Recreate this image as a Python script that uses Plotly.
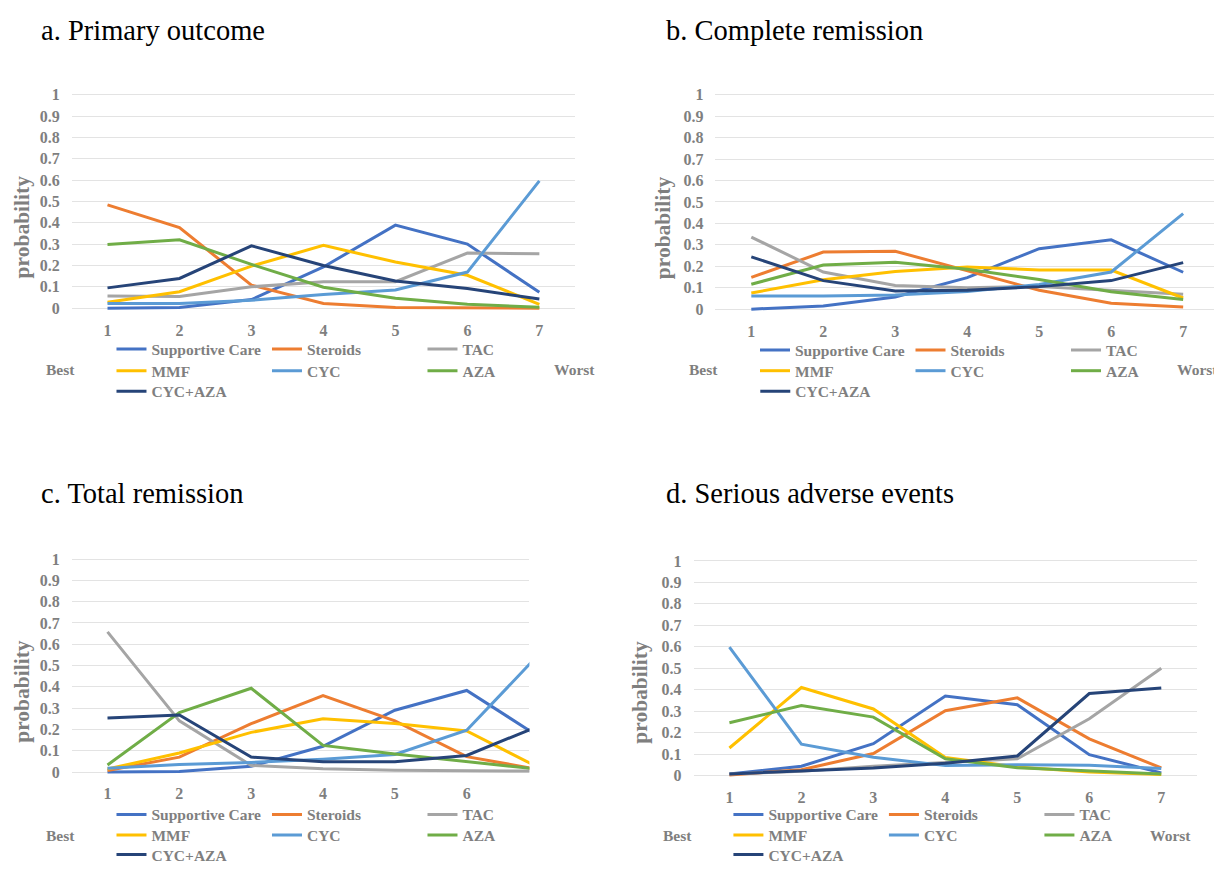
import plotly.graph_objects as go

# The HTML page body adds an 8px offset; target pixels are shifted by OFF.
OFF = 8
W, H = 1222 - OFF, 872 - OFF

# ---------------- data ----------------
ranks = [1, 2, 3, 4, 5, 6, 7]
treatments = ["Supportive Care", "Steroids", "TAC", "MMF", "CYC", "AZA", "CYC+AZA"]
colors = ["#4472C4", "#ED7D31", "#A5A5A5", "#FFC000", "#5B9BD5", "#70AD47", "#264478"]
panel_titles = ["a. Primary outcome", "b. Complete remission",
                "c. Total remission", "d. Serious adverse events"]
y_ticks = [0, 0.1, 0.2, 0.3, 0.4, 0.5, 0.6, 0.7, 0.8, 0.9, 1]
y_tick_labels = ["0", "0.1", "0.2", "0.3", "0.4", "0.5", "0.6", "0.7", "0.8", "0.9", "1"]

# a. Primary outcome
a_supportive = [0.000, 0.003, 0.040, 0.193, 0.389, 0.300, 0.074]
a_steroids = [0.484, 0.377, 0.108, 0.022, 0.003, 0.001, 0.000]
a_tac = [0.057, 0.055, 0.100, 0.124, 0.124, 0.258, 0.255]
a_mmf = [0.028, 0.077, 0.197, 0.294, 0.216, 0.154, 0.018]
a_cyc = [0.022, 0.022, 0.037, 0.064, 0.085, 0.169, 0.596]
a_aza = [0.298, 0.320, 0.205, 0.098, 0.046, 0.018, 0.004]
a_cyc_aza = [0.095, 0.139, 0.292, 0.200, 0.127, 0.092, 0.043]

# b. Complete remission
b_supportive = [0.000, 0.015, 0.057, 0.147, 0.282, 0.323, 0.172]
b_steroids = [0.148, 0.266, 0.270, 0.180, 0.088, 0.028, 0.010]
b_tac = [0.336, 0.173, 0.110, 0.100, 0.106, 0.087, 0.069]
b_mmf = [0.075, 0.137, 0.175, 0.196, 0.183, 0.182, 0.052]
b_cyc = [0.061, 0.061, 0.066, 0.082, 0.115, 0.173, 0.445]
b_aza = [0.116, 0.206, 0.219, 0.186, 0.138, 0.081, 0.045]
b_cyc_aza = [0.244, 0.133, 0.085, 0.088, 0.105, 0.133, 0.217]

# c. Total remission
c_supportive = [0.000, 0.003, 0.027, 0.121, 0.290, 0.383, 0.167]
c_steroids = [0.007, 0.070, 0.227, 0.359, 0.240, 0.072, 0.012]
c_tac = [0.658, 0.240, 0.031, 0.015, 0.008, 0.005, 0.004]
c_mmf = [0.014, 0.089, 0.186, 0.250, 0.228, 0.193, 0.021]
c_cyc = [0.018, 0.035, 0.045, 0.060, 0.082, 0.196, 0.551]
c_aza = [0.033, 0.279, 0.393, 0.125, 0.085, 0.048, 0.013]
c_cyc_aza = [0.254, 0.268, 0.070, 0.048, 0.048, 0.078, 0.216]

# d. Serious adverse events
d_supportive = [0.007, 0.043, 0.148, 0.370, 0.330, 0.097, 0.012]
d_steroids = [0.002, 0.027, 0.102, 0.302, 0.362, 0.171, 0.035]
d_tac = [0.007, 0.020, 0.043, 0.060, 0.078, 0.264, 0.500]
d_mmf = [0.128, 0.410, 0.310, 0.084, 0.040, 0.016, 0.004]
d_cyc = [0.598, 0.146, 0.085, 0.046, 0.050, 0.048, 0.032]
d_aza = [0.246, 0.326, 0.272, 0.078, 0.036, 0.020, 0.007]
d_cyc_aza = [0.007, 0.020, 0.035, 0.057, 0.091, 0.382, 0.408]

panel_series = [
    [a_supportive, a_steroids, a_tac, a_mmf, a_cyc, a_aza, a_cyc_aza],
    [b_supportive, b_steroids, b_tac, b_mmf, b_cyc, b_aza, b_cyc_aza],
    [c_supportive, c_steroids, c_tac, c_mmf, c_cyc, c_aza, c_cyc_aza],
    [d_supportive, d_steroids, d_tac, d_mmf, d_cyc, d_aza, d_cyc_aza],
]

# ---------------- layout geometry (target screen pixels) ----------------
x_geom = [  # (px of rank 1, px of rank k, k, left, right)
    (108, 542, 7, 72, 578),
    (755, 1189, 7, 719, 1222),
    (108, 469, 6, 72, 532),
    (733, 1167, 7, 697, 1203),
]
y_geom = [  # (px of 1, px of 0, top, bottom)
    (90, 307, 88, 310),
    (90, 308, 88, 311),
    (562, 778.5, 560, 781),
    (564, 782, 562, 785),
]
title_pos = [(40, 25), (668, 25), (40, 495), (668, 495)]
ylabel_pos = [(22, 224), (667, 225), (22, 696), (643, 697)]
legend_cols = [152, 799, 152, 772]
legend_rows = [(349, 371, 392), (350, 371, 392), (822, 843, 863), (822, 843, 863)]
best_pos = [(61, 369), (707, 369), (61, 843), (681, 843)]
worst_pos = [(577, 369), (1203, 369), None, (1176, 843)]

GRAY = "#7f7f7f"
SERIF = "Liberation Serif, Times New Roman, serif"


def FX(p):
    return p - OFF


def FY(p):
    return p - OFF


def px_x(p):
    return FX(p) / W


def px_y(p):
    return 1 - FY(p) / H


def lin_range(p_a, v_a, p_b, v_b, L, R):
    s = (v_b - v_a) / (p_b - p_a)
    return [v_a + (L - p_a) * s, v_a + (R - p_a) * s]


fig = go.Figure()
layout = dict(
    width=W, height=H,
    margin=dict(l=0, r=0, t=0, b=0),
    paper_bgcolor="white", plot_bgcolor="white",
    showlegend=True,
    annotations=[],
)

for p in range(4):
    sfx = "" if p == 0 else str(p + 1)
    xa, ya = "x" + sfx, "y" + sfx
    px1, pxk, k, L, R = x_geom[p]
    py1, py0, T, B = y_geom[p]
    fL, fR = FX(L), min(W, FX(R))
    xr = lin_range(FX(px1), 1, FX(pxk), k, fL, fR)
    fT, fB = FY(T), FY(B)
    yr = lin_range(FY(py0), 0, FY(py1), 1, fB, fT)
    layout["xaxis" + sfx] = dict(
        domain=[fL / W, fR / W], range=xr, anchor=ya,
        tickvals=ranks, ticktext=[str(r) for r in ranks],
        showgrid=False, zeroline=False, showline=False, ticks="",
        ticklabelstandoff=8,
        tickfont=dict(family=SERIF, size=16, color=GRAY, weight="bold"),
        fixedrange=True,
    )
    layout["yaxis" + sfx] = dict(
        domain=[1 - fB / H, 1 - fT / H], range=yr, anchor=xa,
        tickvals=y_ticks, ticktext=y_tick_labels,
        showgrid=True, gridcolor="#e3e3e3", gridwidth=1,
        zeroline=False, showline=False, ticks="",
        ticklabelstandoff=11,
        tickfont=dict(family=SERIF, size=16, color=GRAY, weight="bold"),
        fixedrange=True,
    )
    for i, name in enumerate(treatments):
        row = 0 if i < 3 else (1 if i < 6 else 2)
        lid = p * 3 + row + 1
        lname = "legend" if lid == 1 else "legend" + str(lid)
        fig.add_trace(go.Scatter(
            x=ranks, y=panel_series[p][i], mode="lines", name=name,
            line=dict(color=colors[i], width=3),
            xaxis=xa, yaxis=ya, legend=lname, showlegend=True,
        ))
    for row in range(3):
        lid = p * 3 + row + 1
        lname = "legend" if lid == 1 else "legend" + str(lid)
        layout[lname] = dict(
            orientation="h", x=(FX(legend_cols[p]) - 40) / W, xanchor="left",
            y=px_y(legend_rows[p][row]), yanchor="middle",
            entrywidth=110.5, bgcolor="rgba(0,0,0,0)", borderwidth=0,
            font=dict(family=SERIF, size=15.5, color=GRAY, weight="bold"),
            itemclick=False, itemdoubleclick=False,
        )
    tx, ty = title_pos[p]
    layout["annotations"].append(dict(
        text=panel_titles[p], x=px_x(tx), y=px_y(ty), xref="paper", yref="paper",
        xanchor="left", yanchor="middle", showarrow=False, borderpad=0,
        font=dict(family=SERIF, size=28.5, color="black")))
    lx, ly = ylabel_pos[p]
    layout["annotations"].append(dict(
        text="probability", x=px_x(lx), y=px_y(ly), xref="paper", yref="paper",
        xanchor="center", yanchor="middle", showarrow=False, textangle=-90,
        borderpad=0,
        font=dict(family=SERIF, size=21.5, color=GRAY, weight="bold")))
    bx, by = best_pos[p]
    layout["annotations"].append(dict(
        text="Best", x=px_x(bx), y=px_y(by), xref="paper", yref="paper",
        xanchor="center", yanchor="middle", showarrow=False,
        font=dict(family=SERIF, size=15.5, color=GRAY, weight="bold")))
    if worst_pos[p] is not None:
        wx, wy = worst_pos[p]
        layout["annotations"].append(dict(
            text="Worst", x=px_x(wx), y=px_y(wy), xref="paper", yref="paper",
            xanchor="center", yanchor="middle", showarrow=False,
            font=dict(family=SERIF, size=15.5, color=GRAY, weight="bold")))

fig.update_layout(**layout)
fig.write_html("out.html")
